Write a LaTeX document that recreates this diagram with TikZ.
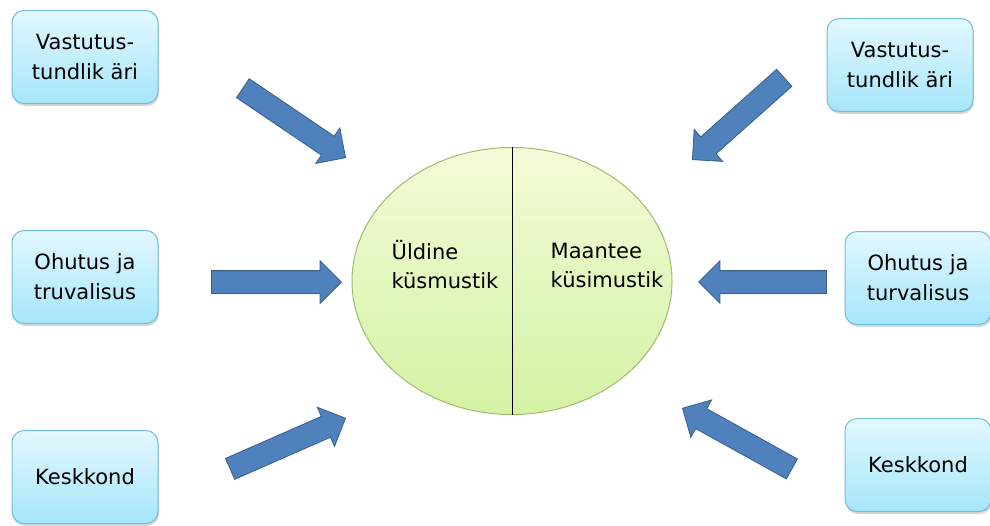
\documentclass[tikz,border=0pt]{standalone}
\usepackage{fontspec}
\setmainfont{DejaVu Sans}
\usetikzlibrary{shapes.geometric,shapes.arrows,shadows}
\definecolor{boxtop}{RGB}{226,248,254}
\definecolor{boxbot}{RGB}{166,230,250}
\definecolor{boxline}{RGB}{112,190,216}
\definecolor{eltop}{RGB}{243,251,216}
\definecolor{elbot}{RGB}{212,242,164}
\definecolor{elline}{RGB}{160,186,110}
\definecolor{arrfill}{RGB}{79,129,189}
\definecolor{arrline}{RGB}{56,93,138}
\begin{document}
\begin{tikzpicture}[x=1pt,y=-1pt,
	teema/.style={rounded corners=12pt,draw=boxline,line width=1pt,top color=boxtop,bottom color=boxbot,
		minimum width=146pt,minimum height=93pt,align=center,font=\fontsize{21}{30}\selectfont,
		drop shadow={shadow xshift=1pt,shadow yshift=-2.5pt,opacity=0.3}},
	nool/.style={single arrow,draw=arrline,fill=arrfill,line width=0.8pt,inner xsep=0pt,inner ysep=11pt,
		minimum height=124pt,single arrow head extend=10pt,anchor=tip},
	silt/.style={align=left,font=\fontsize{21}{29}\selectfont}]
	\useasboundingbox (0,0) rectangle (990,525);
	% kysimustikud
	\node[ellipse,draw=elline,line width=1pt,top color=eltop,bottom color=elbot,
		minimum width=320pt,minimum height=267pt] (k) at (512,281) {};
	\draw[line width=1pt] (k.north) -- (k.south);
	\node[silt] (yld) at (445,265) {Üldine\\küsmustik};
	\node[silt] (maa) at (607,265) {Maantee\\küsimustik};
	% teemad
	\node[teema] (v1) at (85,57) {Vastutus-\\tundlik äri};
	\node[teema] (o1) at (85,277) {Ohutus ja\\truvalisus};
	\node[teema] (k1) at (85,477) {Keskkond};
	\node[teema] (v2) at (900,65) {Vastutus-\\tundlik äri};
	\node[teema] (o2) at (918,278) {Ohutus ja\\turvalisus};
	\node[teema] (k2) at (918,465) {Keskkond};
	% nooled (tipu juurest)
	\node[nool,rotate=-34.1] (n1) at (346,158) {};
	\node[nool,minimum height=130pt] (n2) at (342,282) {};
	\node[nool,rotate=23.7,minimum height=126pt] (n3) at (346,418) {};
	\node[nool,rotate=-138.3,minimum height=123pt] (n4) at (692,160) {};
	\node[nool,rotate=180,minimum height=128pt] (n5) at (698,282) {};
	\node[nool,rotate=151,minimum height=125pt] (n6) at (682,408) {};
\end{tikzpicture}
\end{document}
